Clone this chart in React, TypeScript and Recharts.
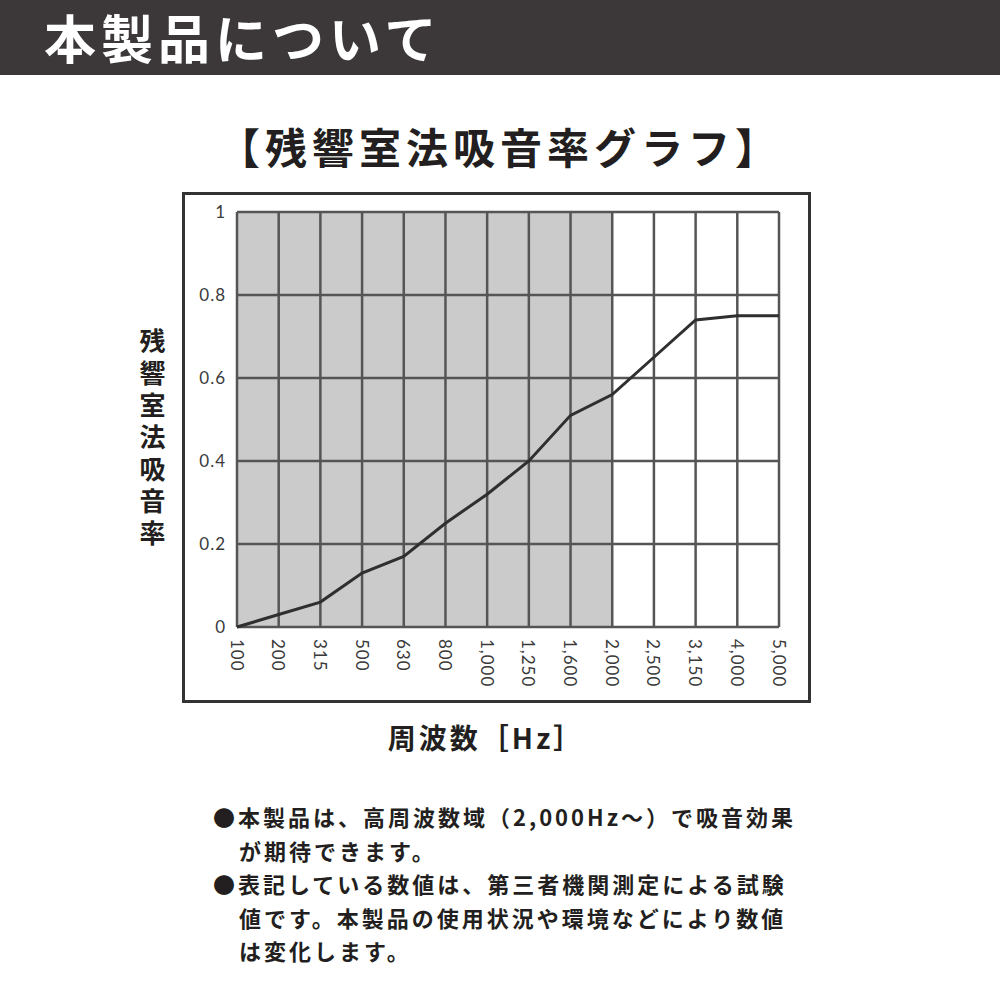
import React from "react";
import { LineChart, Line, XAxis, YAxis, CartesianGrid } from "recharts";

const frequencies = ["100", "200", "315", "500", "630", "800", "1,000", "1,250", "1,600", "2,000", "2,500", "3,150", "4,000", "5,000"];
const absorption = [0, 0.03, 0.06, 0.13, 0.17, 0.25, 0.32, 0.4, 0.51, 0.56, 0.65, 0.74, 0.75, 0.75];
const yTicks = [0, 0.2, 0.4, 0.6, 0.8, 1];
const shadedUntil = "2,000";

const notes = [
  { text: "●本製品は、高周波数域（2,000Hz〜）で吸音効果", indent: false },
  { text: "が期待できます。", indent: true },
  { text: "●表記している数値は、第三者機関測定による試験", indent: false },
  { text: "値です。本製品の使用状況や環境などにより数値", indent: true },
  { text: "は変化します。", indent: true },
];

const data = frequencies.map((f, i) => ({ freq: f, value: absorption[i] }));

const JP = '"Noto Sans CJK JP", "Noto Sans", sans-serif';
const GRAY = "#cbcbcb";

// stripes between vertical grid lines: gray up to 2,000 Hz
const stripeFills = frequencies.map((_, i) =>
  i < frequencies.indexOf(shadedUntil) ? GRAY : "#ffffff"
);

const RotatedTick = (props: any) => {
  const { x, y, payload } = props;
  return (
    <text
      x={x}
      y={y}
      transform={`rotate(90 ${x} ${y})`}
      textAnchor="start"
      dominantBaseline="central"
      fontSize={17}
      letterSpacing={1}
      fontFamily="Lato, sans-serif"
      fill="#3a3a3a"
    >
      {payload.value}
    </text>
  );
};

export default function App() {
  return (
    <div style={{ position: "absolute", left: 0, top: 0, width: 1000, height: 1000, background: "#fff", overflow: "hidden" }}>
      {/* header bar */}
      <div style={{ position: "absolute", left: 0, top: 0, width: 1000, height: 75, background: "#3c3839" }} />
      <div style={{ position: "absolute", left: 44, top: 3, fontFamily: JP, fontWeight: 700, fontSize: 52, color: "#fff", letterSpacing: 5, lineHeight: "68px" }}>
        本製品について
      </div>

      {/* title */}
      <div style={{ position: "absolute", left: 0, top: 117, width: 1000, textAlign: "center", fontFamily: JP, fontWeight: 700, fontSize: 42, color: "#231f20", lineHeight: "58px", letterSpacing: 5 }}>
        【残響室法吸音率グラフ】
      </div>

      {/* frame */}
      <div style={{ position: "absolute", left: 182, top: 192, width: 623, height: 505, border: "3px solid #333" }} />

      {/* y label */}
      <div style={{ position: "absolute", left: 134, top: 328, writingMode: "vertical-rl", fontFamily: JP, fontWeight: 700, fontSize: 26, color: "#231f20", letterSpacing: 6 }}>
        残響室法吸音率
      </div>

      {/* x label */}
      <div style={{ position: "absolute", left: 0, top: 717, width: 972, textAlign: "center", fontFamily: JP, fontWeight: 700, fontSize: 28, color: "#231f20", lineHeight: "40px", letterSpacing: 3 }}>
        周波数［Hz］
      </div>

      <div style={{ position: "absolute", left: 0, top: 0 }}>
        <LineChart
          width={1000}
          height={1000}
          data={data}
          margin={{ top: 212, right: 221, bottom: 313, left: 187 }}
        >
          <CartesianGrid
            stroke="#555"
            strokeWidth={2.5}
            verticalFill={stripeFills}
            fillOpacity={1}
          />
          <XAxis
            dataKey="freq"
            interval={0}
            height={60}
            tickLine={false}
            axisLine={false}
            tickSize={0}
            tickMargin={12}
            tick={<RotatedTick />}
          />
          <YAxis
            domain={[0, 1]}
            ticks={yTicks}
            width={50}
            tickLine={false}
            axisLine={false}
            tickSize={0}
            tickMargin={11}
            tickFormatter={(v: number) => String(v)}
            tick={{ fontSize: 17, fill: "#3a3a3a", fontFamily: "Lato, sans-serif", letterSpacing: 1 }}
          />
          <Line
            type="linear"
            dataKey="value"
            stroke="#2f2f2f"
            strokeWidth={3}
            dot={false}
            isAnimationActive={false}
          />
        </LineChart>
      </div>

      {/* notes */}
      {notes.map((n, i) => (
        <div
          key={i}
          style={{
            position: "absolute",
            left: n.indent ? 239 : 213,
            top: 800 + i * 33.5,
            fontFamily: JP,
            fontWeight: 700,
            fontSize: 22,
            letterSpacing: 3,
            color: "#231f20",
            lineHeight: "33px",
            whiteSpace: "nowrap",
          }}
        >
          {n.text}
        </div>
      ))}
    </div>
  );
}
